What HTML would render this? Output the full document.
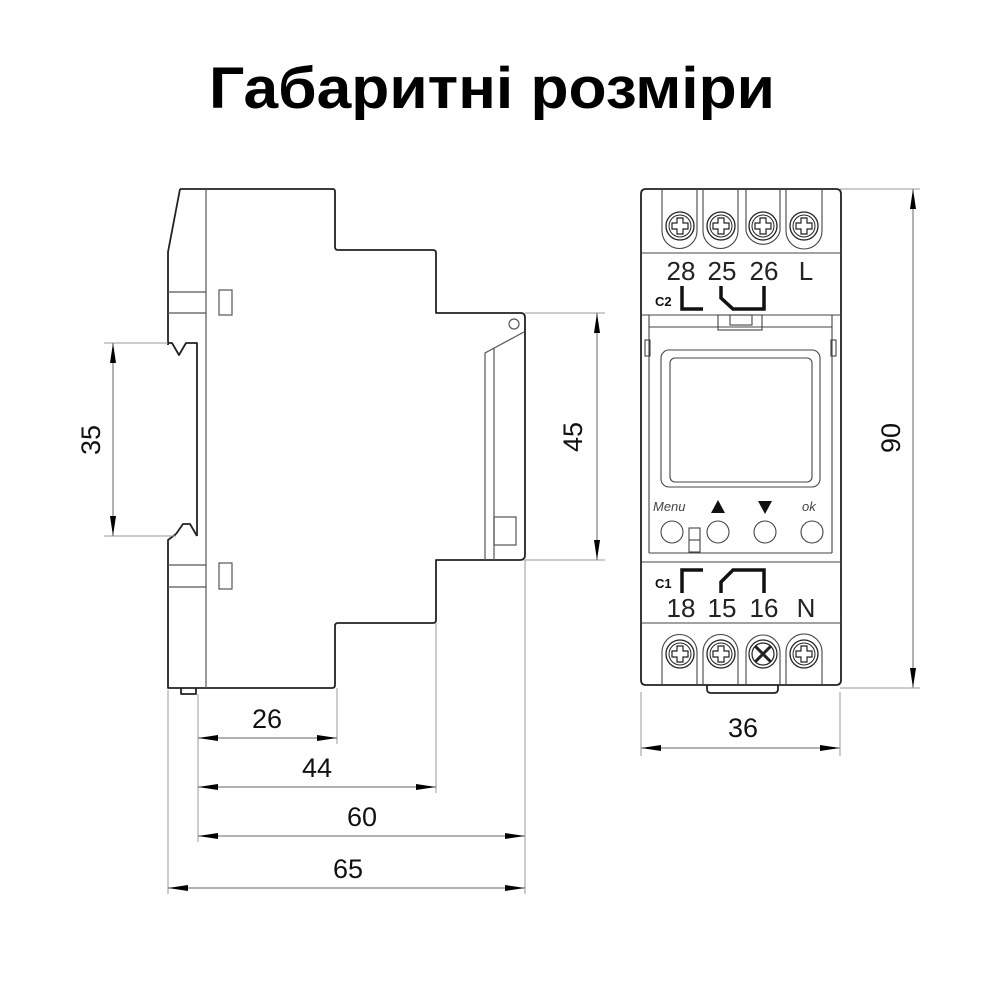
<!DOCTYPE html>
<html><head><meta charset="utf-8"><style>
html,body{margin:0;padding:0;background:#fff;width:1000px;height:1000px;overflow:hidden}
</style></head><body>
<svg width="1000" height="1000" viewBox="0 0 1000 1000" xmlns="http://www.w3.org/2000/svg">
<defs>
<marker id="a" viewBox="0 0 20 6" refX="20" refY="3" markerWidth="20" markerHeight="6" orient="auto-start-reverse" markerUnits="userSpaceOnUse"><path d="M0,0 L20,3 L0,6 Z" fill="#000"/></marker>
<g id="scrw"><circle r="14" fill="none" stroke="#222" stroke-width="1.3"/><circle r="11" fill="none" stroke="#222" stroke-width="1"/><path d="M-3,-8 h6 v5 h5 v6 h-5 v5 h-6 v-5 h-5 v-6 h5 Z" fill="none" stroke="#222" stroke-width="1.2"/></g>
</defs>
<text x="492" y="108" text-anchor="middle" font-family="Liberation Sans, sans-serif" font-weight="bold" font-size="58" textLength="566" lengthAdjust="spacingAndGlyphs">Габаритні розміри</text>

<g fill="none" stroke="#222" stroke-width="1.8" stroke-linejoin="round">
<path d="M180,189 H333 Q335,189 335,192 V247 Q335,250 338,250 H433 Q436,250 436,253 V313 H521 Q525,313 525,318 V555 Q525,560 520,560 H436 V620 Q436,623 433,623 H338 Q335,623 335,626 V685 Q335,688 332,688 H168 V540 L176,534"/>
<path d="M168,345 V252 L180,189"/>
<path d="M168,343 H172 L179,355 L186,343 H197 V536"/>
<path d="M197,536 L190,524 L183,524 L176,534"/>
<path d="M181,688 V694 H196 V688"/>
</g>
<g fill="none" stroke="#555" stroke-width="1.2">
<line x1="206" y1="189" x2="206" y2="688"/>
<line x1="168" y1="292" x2="206" y2="292"/><line x1="168" y1="313" x2="206" y2="313"/>
<line x1="168" y1="565" x2="206" y2="565"/><line x1="168" y1="587" x2="206" y2="587"/>
<rect x="219" y="290" width="13" height="25"/><rect x="219" y="563" width="13" height="26"/>
<circle cx="514" cy="324" r="5"/>
<path d="M524,332 L485,353 V560 M494,348 V560"/>
<rect x="494" y="517" width="22" height="28"/>
</g>
<g stroke="#999" stroke-width="1" fill="none">
<line x1="104" y1="343" x2="168" y2="343"/><line x1="104" y1="536" x2="176" y2="536"/>
<line x1="525" y1="313" x2="605" y2="313"/><line x1="525" y1="560" x2="605" y2="560"/>
<line x1="198" y1="694" x2="198" y2="842"/><line x1="168" y1="690" x2="168" y2="894"/>
<line x1="337" y1="688" x2="337" y2="744"/><line x1="436" y1="623" x2="436" y2="793"/>
<line x1="525" y1="560" x2="525" y2="894"/>
</g>
<g stroke="#666" stroke-width="1" marker-start="url(#a)" marker-end="url(#a)">
<line x1="113" y1="343" x2="113" y2="536"/>
<line x1="597" y1="313" x2="597" y2="560"/>
<line x1="198" y1="738" x2="337" y2="738"/>
<line x1="198" y1="787" x2="436" y2="787"/>
<line x1="198" y1="836" x2="525" y2="836"/>
<line x1="168" y1="888" x2="525" y2="888"/>
<line x1="913" y1="189" x2="913" y2="688"/>
<line x1="641" y1="748" x2="840" y2="748"/>
</g>
<g font-family="Liberation Sans, sans-serif" font-size="27" fill="#111" text-anchor="middle">
<text x="267" y="728">26</text><text x="317" y="777">44</text><text x="362" y="826">60</text><text x="348" y="878">65</text>
<text x="743" y="737">36</text>
<text transform="translate(100,440) rotate(-90)">35</text>
<text transform="translate(582,437) rotate(-90)">45</text>
<text transform="translate(900,438) rotate(-90)">90</text>
</g>
<line x1="840" y1="189" x2="920" y2="189" stroke="#999"/><line x1="840" y1="688" x2="920" y2="688" stroke="#999"/>
<line x1="641" y1="692" x2="641" y2="756" stroke="#999"/><line x1="840" y1="692" x2="840" y2="756" stroke="#999"/>

<g fill="none" stroke="#222" stroke-width="1.8">
<path d="M646,189 H836 Q841,189 841,194 V680 Q841,685 836,685 H646 Q641,685 641,680 V194 Q641,189 646,189 Z"/>
<path d="M707,685 V689 Q707,693 711,693 H774 Q778,693 778,689 V685"/>
</g>
<g fill="none" stroke="#444" stroke-width="1.1">
<line x1="641" y1="253" x2="841" y2="253"/>
<line x1="641" y1="315" x2="841" y2="315"/>
<line x1="649" y1="327" x2="832" y2="327"/>
<line x1="641" y1="562" x2="841" y2="562"/>
<line x1="641" y1="623" x2="841" y2="623"/>
<line x1="649" y1="315" x2="649" y2="553"/><line x1="832" y1="315" x2="832" y2="553"/>
<line x1="649" y1="553" x2="832" y2="553"/>
<rect x="718" y="315" width="44" height="15"/><rect x="730" y="315" width="22" height="10"/>
<rect x="645" y="340" width="5" height="16"/><rect x="831" y="340" width="5" height="16"/>
<rect x="661" y="350" width="159" height="137" rx="8"/>
<rect x="670" y="358" width="142" height="124" rx="5"/>
<path d="M662,189 V231 A17.5,17.5 0 0 0 697,231 V189 M703,189 V231 A17.5,17.5 0 0 0 738,231 V189 M746,189 V231 A17.5,17.5 0 0 0 780,231 V189 M786,189 V231 A18,18 0 0 0 822,231 V189"/>
<path d="M662,685 V652 A17.5,17.5 0 0 1 697,652 V685 M703,685 V652 A17.5,17.5 0 0 1 738,652 V685 M746,685 V652 A17,17 0 0 1 780,652 V685 M786,685 V652 A18,18 0 0 1 822,652 V685"/>
<circle cx="672" cy="532" r="11"/><circle cx="718" cy="532" r="11"/><circle cx="765" cy="532" r="11"/><circle cx="812" cy="532" r="11"/>
<rect x="689" y="528" width="11" height="24"/><line x1="689" y1="540" x2="700" y2="540"/>
</g>
<use href="#scrw" x="680" y="226"/><use href="#scrw" x="721" y="226"/><use href="#scrw" x="763" y="226"/><use href="#scrw" x="804" y="226"/>
<use href="#scrw" x="680" y="654"/><use href="#scrw" x="721" y="654"/><use href="#scrw" x="804" y="654"/>
<g fill="none" stroke="#222" stroke-width="1.2"><circle cx="763" cy="654" r="14"/><circle cx="763" cy="654" r="11"/><path d="M755,646 L771,662 M771,646 L755,662" stroke-width="3"/></g>
<g font-family="Liberation Sans, sans-serif" font-size="26" fill="#222" text-anchor="middle">
<text x="681" y="280">28</text><text x="722" y="280">25</text><text x="764" y="280">26</text><text x="806" y="280">L</text>
<text x="681" y="617">18</text><text x="722" y="617">15</text><text x="764" y="617">16</text><text x="806" y="617">N</text>
</g>
<g font-family="Liberation Sans, sans-serif" font-weight="bold" font-size="13" fill="#111">
<text x="655" y="306">C2</text><text x="655" y="588">C1</text>
</g>
<g font-family="Liberation Sans, sans-serif" font-style="italic" font-size="13" fill="#444">
<text x="653" y="511">Menu</text><text x="802" y="511">ok</text>
</g>
<path d="M711,513 L718,500 L725,513 Z M758,501 L772,501 L765,514 Z" fill="#111"/>
<g fill="none" stroke="#111" stroke-width="3.5">
<path d="M682,286 V309 H703"/>
<path d="M721,286 V298 L733,309 H764 V286"/>
<path d="M682,593 V570 H703"/>
<path d="M721,593 V582 L733,570 H764 V593"/>
</g>
</svg>
</body></html>
